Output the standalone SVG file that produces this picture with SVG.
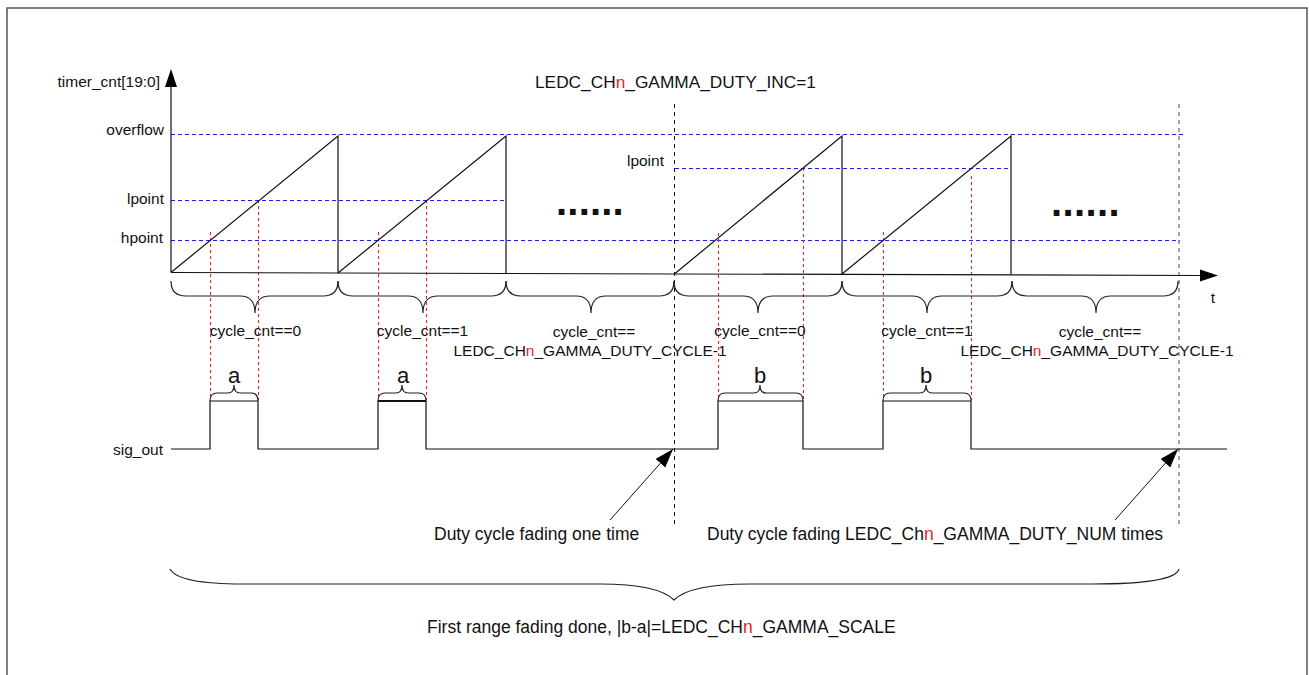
<svg xmlns="http://www.w3.org/2000/svg" width="1309" height="675" viewBox="0 0 1309 675">
<defs>
<style>
.txt{font-family:"Liberation Sans",Arial,Helvetica,sans-serif;fill:#111;}
.lbl{font-size:15.5px;}
.big{font-size:17.5px;}
.ab{font-size:22px;}
.red{fill:#ee2222;}
.blue{stroke:#1a1aff;stroke-width:1;stroke-dasharray:4 3;fill:none;}
.rdash{stroke:#ff1a1a;stroke-width:1;stroke-dasharray:3 3;fill:none;}
.kdash{stroke:#111;stroke-width:1;stroke-dasharray:4 4;fill:none;}
.gdash{stroke:#666;stroke-width:1.2;stroke-dasharray:4 4;fill:none;}
.ln{stroke:#111;stroke-width:1.2;fill:none;}
.brace{stroke:#222;stroke-width:1.2;fill:none;}
</style>
<marker id="arr" markerUnits="userSpaceOnUse" markerWidth="20" markerHeight="14" refX="19" refY="6.5" orient="auto">
<path d="M0,0 L19,6.5 L0,13 Z" fill="#000"/>
</marker>
</defs>
<rect x="0" y="0" width="1309" height="675" fill="#fff"/>
<rect id="frame" x="7" y="8" width="1300" height="720" fill="none" stroke="#555" stroke-width="1.5"/>

<g id="grid">
<line class="blue" x1="171" y1="134.5" x2="1183" y2="134.5"/>
<line class="blue" x1="171" y1="200.5" x2="506" y2="200.5"/>
<line class="blue" x1="171" y1="240.5" x2="1180" y2="240.5"/>
<line class="blue" x1="675" y1="168.5" x2="1011" y2="168.5"/>
<line class="kdash" x1="674.5" y1="104" x2="674.5" y2="528"/>
<line class="gdash" x1="1179" y1="104" x2="1179" y2="528"/>
<line class="rdash" x1="210.5" y1="232" x2="210.5" y2="400"/>
<line class="rdash" x1="258.5" y1="200" x2="258.5" y2="400"/>
<line class="rdash" x1="378.5" y1="232" x2="378.5" y2="400"/>
<line class="rdash" x1="426.5" y1="200" x2="426.5" y2="400"/>
<line class="rdash" x1="718.5" y1="233" x2="718.5" y2="400"/>
<line class="rdash" x1="803.5" y1="168" x2="803.5" y2="400"/>
<line class="rdash" x1="883.5" y1="232" x2="883.5" y2="400"/>
<line class="rdash" x1="971.5" y1="176" x2="971.5" y2="400"/>
</g>

<g id="axes">
<line class="ln" x1="171" y1="272.5" x2="171" y2="86"/>
<polygon points="171,69 165,87 177,87" fill="#000"/>
<line class="ln" x1="171" y1="272.5" x2="1201" y2="275.5"/>
<polygon points="1218,275.5 1200,269.5 1200,281.5" fill="#000"/>
</g>

<g id="ramps">
<path class="ln" d="M171,272.5 L338,136 L338,273"/>
<path class="ln" d="M338,273 L506,136 L506,273.5"/>
<path class="ln" d="M675,273.5 L842,136 L842,274"/>
<path class="ln" d="M842,274 L1011,136 L1011,274.5"/>
</g>

<g id="axis-labels" class="txt lbl">
<text x="160" y="87" text-anchor="end">timer_cnt[19:0]</text>
<text x="164" y="135" text-anchor="end">overflow</text>
<text x="164" y="204" text-anchor="end">lpoint</text>
<text x="163" y="243" text-anchor="end">hpoint</text>
<text x="664" y="166" text-anchor="end">lpoint</text>
<text x="1213" y="303" text-anchor="middle">t</text>
</g>

<g id="title" class="txt">
<text x="535" y="88" style="font-size:17.3px">LEDC_CH<tspan class="red">n</tspan>_GAMMA_DUTY_INC=1</text>
</g>

<g id="ellipsis" class="txt">
<text x="556" y="214.5" style="font-size:40px;font-weight:bold;letter-spacing:0.2px">......</text>
<text x="1051" y="215.5" style="font-size:40px;font-weight:bold;letter-spacing:0.4px">......</text>
</g>

<g id="cycle-braces">
<path class="brace" d="M171,281 Q171,296 186,296 L240,296 Q255,296 255,313 Q255,296 270,296 L323,296 Q338,296 338,281"/>
<path class="brace" d="M338,281 Q338,296 353,296 L408,296 Q423,296 423,313 Q423,296 438,296 L491,296 Q506,296 506,281"/>
<path class="brace" d="M506,281 Q506,296 521,296 L576,296 Q591,296 591,313 Q591,296 606,296 L659,296 Q674,296 674,281"/>
<path class="brace" d="M674,281 Q674,296 689,296 L743,296 Q758,296 758,313 Q758,296 773,296 L827,296 Q842,296 842,281"/>
<path class="brace" d="M842,281 Q842,296 857,296 L912,296 Q927,296 927,313 Q927,296 942,296 L997,296 Q1012,296 1012,281"/>
<path class="brace" d="M1012,281 Q1012,296 1027,296 L1081,296 Q1096,296 1096,313 Q1096,296 1111,296 L1163,296 Q1178,296 1178,281"/>
</g>

<g id="cycle-labels" class="txt lbl" text-anchor="middle">
<text x="255.5" y="336">cycle_cnt==0</text>
<text x="422.5" y="336">cycle_cnt==1</text>
<text x="594" y="337">cycle_cnt==</text>
<text x="590" y="355.5">LEDC_CH<tspan class="red">n</tspan>_GAMMA_DUTY_CYCLE-1</text>
<text x="760" y="336">cycle_cnt==0</text>
<text x="927" y="336">cycle_cnt==1</text>
<text x="1100" y="337">cycle_cnt==</text>
<text x="1097" y="355.5">LEDC_CH<tspan class="red">n</tspan>_GAMMA_DUTY_CYCLE-1</text>
</g>

<g id="sig_out">
<text class="txt lbl" x="163" y="455" text-anchor="end">sig_out</text>
<path class="ln" d="M171,449 L210,449 L210,401 L258,401 L258,449 L378,449 L378,401 L426,401 L426,449 L718,449 L718,401 L803,401 L803,449 L883,449 L883,401 L971,401 L971,449 L1227,449"/>
<line x1="378" y1="401" x2="426" y2="401" stroke="#111" stroke-width="2.2"/>
</g>

<g id="width-braces">
<path class="brace" d="M210,401 Q210,393 217,393 L228,393 Q234,393 234,385 Q234,393 240,393 L251,393 Q258,393 258,401"/>
<path class="brace" d="M378,401 Q378,393 385,393 L396,393 Q402,393 402,385 Q402,393 408,393 L419,393 Q426,393 426,401"/>
<path class="brace" d="M718,401 Q718,393 725,393 L754,393 Q760,393 760,385 Q760,393 766,393 L796,393 Q803,393 803,401"/>
<path class="brace" d="M883,401 Q883,393 890,393 L920,393 Q926,393 926,385 Q926,393 932,393 L964,393 Q971,393 971,401"/>
<g class="txt ab" text-anchor="middle">
<text x="234" y="383">a</text>
<text x="403" y="383">a</text>
<text x="760" y="383">b</text>
<text x="926" y="383">b</text>
</g>
</g>

<g id="connectors">
<line x1="610" y1="520" x2="673" y2="449" stroke="#111" stroke-width="1" marker-end="url(#arr)"/>
<line x1="1115" y1="520" x2="1178" y2="449" stroke="#111" stroke-width="1" marker-end="url(#arr)"/>
</g>

<g id="annotations" class="txt big">
<text x="434" y="540">Duty cycle fading one time</text>
<text x="707" y="540">Duty cycle fading LEDC_Ch<tspan class="red">n</tspan>_GAMMA_DUTY_NUM times</text>
</g>

<g id="range-brace">
<path class="brace" d="M170,569 C176,580 205,584 243,584 L600,584 C640,584 664,590 674,600 C684,590 708,584 750,584 L1092,584 C1140,584 1176,580 1179,569"/>
<text class="txt big" x="427" y="633">First range fading done, |b-a|=LEDC_CH<tspan class="red">n</tspan>_GAMMA_SCALE</text>
</g>
</svg>
